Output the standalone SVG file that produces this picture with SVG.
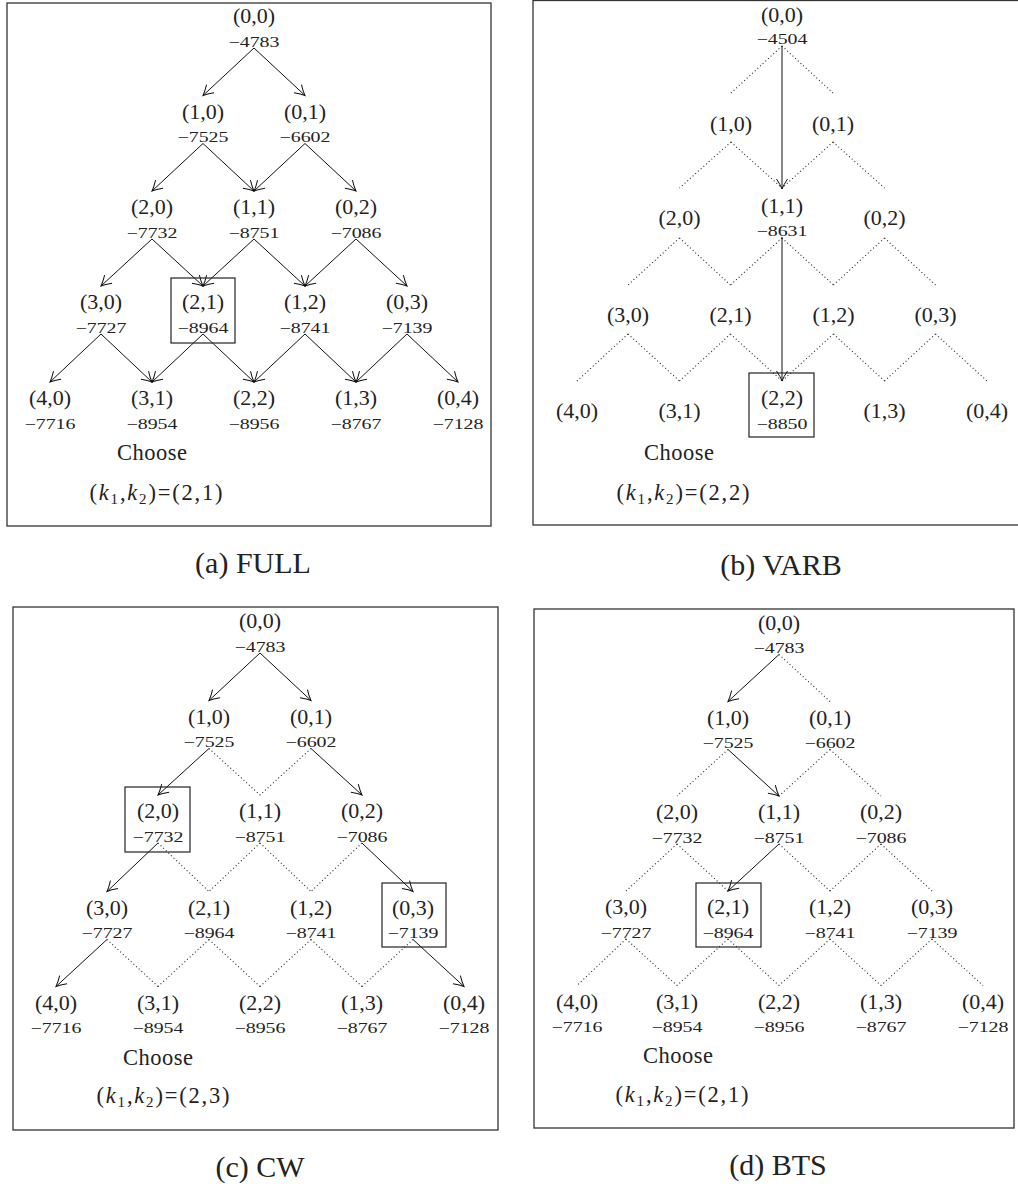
<svg xmlns="http://www.w3.org/2000/svg" width="1018" height="1190" viewBox="0 0 1018 1190">
<style>
text{font-family:"Liberation Serif","Times New Roman",serif;fill:#222;text-anchor:middle}
.lab{font-size:22px}
.val{font-size:14.5px}
.cap{font-size:30px}
.ch{font-size:22.5px}
.frame{fill:none;stroke:#333;stroke-width:1.3}
.box{fill:none;stroke:#222;stroke-width:1.2}
.s{stroke:#111;stroke-width:1;fill:none;marker-end:url(#ah)}
.d{stroke:#222;stroke-width:1.1;fill:none;stroke-dasharray:1 2.6}
</style>
<defs>
<marker id="ah" markerUnits="userSpaceOnUse" markerWidth="14" markerHeight="14" refX="0" refY="0" orient="auto" overflow="visible">
<path d="M -10 -5.5 Q -4 -1.5 0 0 Q -4 1.5 -10 5.5" fill="none" stroke="#111" stroke-width="1"/>
</marker>
</defs>
<rect width="1018" height="1190" fill="#fff"/>

<!-- frames -->
<g id="frames">
<rect class="frame" x="7" y="3" width="484" height="523"/>
<rect class="frame" x="533" y="0.5" width="495" height="524.5"/>
<rect class="frame" x="13" y="607" width="485" height="523"/>
<rect class="frame" x="534" y="609" width="480" height="519"/>
</g>

<!-- connectors -->
<g id="connectors">
<!-- panel a -->
<line class="s" x1="254" y1="48" x2="203" y2="95.5"/>
<line class="s" x1="254" y1="48" x2="305" y2="95.5"/>
<line class="s" x1="203" y1="143.5" x2="152" y2="191"/>
<line class="s" x1="203" y1="143.5" x2="254" y2="191"/>
<line class="s" x1="305" y1="143.5" x2="254" y2="191"/>
<line class="s" x1="305" y1="143.5" x2="356" y2="191"/>
<line class="s" x1="152" y1="239" x2="101" y2="286"/>
<line class="s" x1="152" y1="239" x2="203" y2="286"/>
<line class="s" x1="254" y1="239" x2="203" y2="286"/>
<line class="s" x1="254" y1="239" x2="305" y2="286"/>
<line class="s" x1="356" y1="239" x2="305" y2="286"/>
<line class="s" x1="356" y1="239" x2="407" y2="286"/>
<line class="s" x1="101" y1="334" x2="50" y2="382"/>
<line class="s" x1="101" y1="334" x2="152" y2="382"/>
<line class="s" x1="203" y1="334" x2="152" y2="382"/>
<line class="s" x1="203" y1="334" x2="254" y2="382"/>
<line class="s" x1="305" y1="334" x2="254" y2="382"/>
<line class="s" x1="305" y1="334" x2="356" y2="382"/>
<line class="s" x1="407" y1="334" x2="356" y2="382"/>
<line class="s" x1="407" y1="334" x2="458" y2="382"/>
<!-- panel b -->
<line class="d" x1="782" y1="46" x2="731" y2="93"/>
<line class="d" x1="782" y1="46" x2="833" y2="93"/>
<line class="d" x1="731" y1="142" x2="679.5" y2="188"/>
<line class="d" x1="731" y1="142" x2="782" y2="188"/>
<line class="d" x1="833" y1="142" x2="782" y2="188"/>
<line class="d" x1="833" y1="142" x2="884.5" y2="188"/>
<line class="d" x1="679.5" y1="238" x2="628" y2="285"/>
<line class="d" x1="679.5" y1="238" x2="730.5" y2="285"/>
<line class="d" x1="782" y1="238" x2="730.5" y2="285"/>
<line class="d" x1="782" y1="238" x2="833.5" y2="285"/>
<line class="d" x1="884.5" y1="238" x2="833.5" y2="285"/>
<line class="d" x1="884.5" y1="238" x2="935.5" y2="285"/>
<line class="d" x1="628" y1="334" x2="577" y2="381"/>
<line class="d" x1="628" y1="334" x2="679.5" y2="381"/>
<line class="d" x1="730.5" y1="334" x2="679.5" y2="381"/>
<line class="d" x1="730.5" y1="334" x2="782" y2="381"/>
<line class="d" x1="833.5" y1="334" x2="782" y2="381"/>
<line class="d" x1="833.5" y1="334" x2="884.5" y2="381"/>
<line class="d" x1="935.5" y1="334" x2="884.5" y2="381"/>
<line class="d" x1="935.5" y1="334" x2="987" y2="381"/>
<line class="s" x1="782" y1="46" x2="782" y2="189"/>
<line class="s" x1="782" y1="237" x2="782" y2="381"/>
<!-- panel c -->
<line class="s" x1="260" y1="653" x2="209" y2="700.5"/>
<line class="s" x1="260" y1="653" x2="311" y2="700.5"/>
<line class="s" x1="209" y1="748.5" x2="158" y2="795"/>
<line class="d" x1="209" y1="748.5" x2="260" y2="795"/>
<line class="d" x1="311" y1="748.5" x2="260" y2="795"/>
<line class="s" x1="311" y1="748.5" x2="362" y2="795"/>
<line class="s" x1="158" y1="843" x2="107" y2="891.5"/>
<line class="d" x1="158" y1="843" x2="209" y2="891.5"/>
<line class="d" x1="260" y1="843" x2="209" y2="891.5"/>
<line class="d" x1="260" y1="843" x2="311" y2="891.5"/>
<line class="d" x1="362" y1="843" x2="311" y2="891.5"/>
<line class="s" x1="362" y1="843" x2="413" y2="891.5"/>
<line class="s" x1="107" y1="939.5" x2="56" y2="986.5"/>
<line class="d" x1="107" y1="939.5" x2="158" y2="986.5"/>
<line class="d" x1="209" y1="939.5" x2="158" y2="986.5"/>
<line class="d" x1="209" y1="939.5" x2="260" y2="986.5"/>
<line class="d" x1="311" y1="939.5" x2="260" y2="986.5"/>
<line class="d" x1="311" y1="939.5" x2="362" y2="986.5"/>
<line class="d" x1="413" y1="939.5" x2="362" y2="986.5"/>
<line class="s" x1="413" y1="939.5" x2="464" y2="986.5"/>
<!-- panel d -->
<line class="s" x1="779" y1="654.5" x2="728" y2="701.5"/>
<line class="d" x1="779" y1="654.5" x2="830" y2="701.5"/>
<line class="d" x1="728" y1="749.5" x2="677" y2="796"/>
<line class="s" x1="728" y1="749.5" x2="779" y2="796"/>
<line class="d" x1="830" y1="749.5" x2="779" y2="796"/>
<line class="d" x1="830" y1="749.5" x2="881" y2="796"/>
<line class="d" x1="677" y1="844" x2="626" y2="891"/>
<line class="d" x1="677" y1="844" x2="728" y2="891"/>
<line class="s" x1="779" y1="844" x2="728" y2="891"/>
<line class="d" x1="779" y1="844" x2="830" y2="891"/>
<line class="d" x1="881" y1="844" x2="830" y2="891"/>
<line class="d" x1="881" y1="844" x2="932" y2="891"/>
<line class="d" x1="626" y1="939" x2="577" y2="985.5"/>
<line class="d" x1="626" y1="939" x2="677" y2="985.5"/>
<line class="d" x1="728" y1="939" x2="677" y2="985.5"/>
<line class="d" x1="728" y1="939" x2="779" y2="985.5"/>
<line class="d" x1="830" y1="939" x2="779" y2="985.5"/>
<line class="d" x1="830" y1="939" x2="881" y2="985.5"/>
<line class="d" x1="932" y1="939" x2="881" y2="985.5"/>
<line class="d" x1="932" y1="939" x2="983" y2="985.5"/>
</g>

<!-- Panel a nodes -->
<g id="a-0-0"><text class="lab" x="254" y="23">(0,0)</text><text class="val" x="254" y="47" textLength="51" lengthAdjust="spacingAndGlyphs">−4783</text></g>
<g id="a-1-0"><text class="lab" x="203" y="118.5">(1,0)</text><text class="val" x="203" y="142" textLength="51" lengthAdjust="spacingAndGlyphs">−7525</text></g>
<g id="a-0-1"><text class="lab" x="305" y="118.5">(0,1)</text><text class="val" x="305" y="142" textLength="51" lengthAdjust="spacingAndGlyphs">−6602</text></g>
<g id="a-2-0"><text class="lab" x="152" y="214">(2,0)</text><text class="val" x="152" y="237.5" textLength="51" lengthAdjust="spacingAndGlyphs">−7732</text></g>
<g id="a-1-1"><text class="lab" x="254" y="214">(1,1)</text><text class="val" x="254" y="237.5" textLength="51" lengthAdjust="spacingAndGlyphs">−8751</text></g>
<g id="a-0-2"><text class="lab" x="356" y="214">(0,2)</text><text class="val" x="356" y="237.5" textLength="51" lengthAdjust="spacingAndGlyphs">−7086</text></g>
<g id="a-3-0"><text class="lab" x="101" y="309">(3,0)</text><text class="val" x="101" y="332.5" textLength="51" lengthAdjust="spacingAndGlyphs">−7727</text></g>
<g id="a-2-1"><rect class="box" x="171" y="278" width="64" height="65"/><text class="lab" x="203" y="309">(2,1)</text><text class="val" x="203" y="332.5" textLength="51" lengthAdjust="spacingAndGlyphs">−8964</text></g>
<g id="a-1-2"><text class="lab" x="305" y="309">(1,2)</text><text class="val" x="305" y="332.5" textLength="51" lengthAdjust="spacingAndGlyphs">−8741</text></g>
<g id="a-0-3"><text class="lab" x="407" y="309">(0,3)</text><text class="val" x="407" y="332.5" textLength="51" lengthAdjust="spacingAndGlyphs">−7139</text></g>
<g id="a-4-0"><text class="lab" x="50" y="405">(4,0)</text><text class="val" x="50" y="428.5" textLength="51" lengthAdjust="spacingAndGlyphs">−7716</text></g>
<g id="a-3-1"><text class="lab" x="152" y="405">(3,1)</text><text class="val" x="152" y="428.5" textLength="51" lengthAdjust="spacingAndGlyphs">−8954</text></g>
<g id="a-2-2"><text class="lab" x="254" y="405">(2,2)</text><text class="val" x="254" y="428.5" textLength="51" lengthAdjust="spacingAndGlyphs">−8956</text></g>
<g id="a-1-3"><text class="lab" x="356" y="405">(1,3)</text><text class="val" x="356" y="428.5" textLength="51" lengthAdjust="spacingAndGlyphs">−8767</text></g>
<g id="a-0-4"><text class="lab" x="458" y="405">(0,4)</text><text class="val" x="458" y="428.5" textLength="51" lengthAdjust="spacingAndGlyphs">−7128</text></g>
<g id="a-choose"><text class="ch" x="152" y="460" textLength="70">Choose</text><text class="ch" x="156" y="500" textLength="133">(<tspan font-style="italic">k</tspan><tspan font-size="15" dy="4">1</tspan><tspan dy="-4">,</tspan><tspan font-style="italic">k</tspan><tspan font-size="15" dy="4">2</tspan><tspan dy="-4">)=(2,1)</tspan></text></g>
<g id="a-caption"><text class="cap" x="253" y="573">(a) FULL</text></g>

<!-- Panel b nodes -->
<g id="b-0-0"><text class="lab" x="782" y="22">(0,0)</text><text class="val" x="782" y="43.5" textLength="51" lengthAdjust="spacingAndGlyphs">−4504</text></g>
<g id="b-1-0"><text class="lab" x="731" y="131">(1,0)</text></g>
<g id="b-0-1"><text class="lab" x="833" y="131">(0,1)</text></g>
<g id="b-2-0"><text class="lab" x="679.5" y="225">(2,0)</text></g>
<g id="b-1-1"><text class="lab" x="782" y="213">(1,1)</text><text class="val" x="782" y="235.5" textLength="51" lengthAdjust="spacingAndGlyphs">−8631</text></g>
<g id="b-0-2"><text class="lab" x="884.5" y="225">(0,2)</text></g>
<g id="b-3-0"><text class="lab" x="628" y="322">(3,0)</text></g>
<g id="b-2-1"><text class="lab" x="730.5" y="322">(2,1)</text></g>
<g id="b-1-2"><text class="lab" x="833.5" y="322">(1,2)</text></g>
<g id="b-0-3"><text class="lab" x="935.5" y="322">(0,3)</text></g>
<g id="b-4-0"><text class="lab" x="577" y="418">(4,0)</text></g>
<g id="b-3-1"><text class="lab" x="679.5" y="418">(3,1)</text></g>
<g id="b-2-2"><rect class="box" x="749" y="373" width="65" height="64"/><text class="lab" x="782" y="405">(2,2)</text><text class="val" x="782" y="428.5" textLength="51" lengthAdjust="spacingAndGlyphs">−8850</text></g>
<g id="b-1-3"><text class="lab" x="884.5" y="418">(1,3)</text></g>
<g id="b-0-4"><text class="lab" x="987" y="418">(0,4)</text></g>
<g id="b-choose"><text class="ch" x="679" y="460" textLength="70">Choose</text><text class="ch" x="683" y="500" textLength="133">(<tspan font-style="italic">k</tspan><tspan font-size="15" dy="4">1</tspan><tspan dy="-4">,</tspan><tspan font-style="italic">k</tspan><tspan font-size="15" dy="4">2</tspan><tspan dy="-4">)=(2,2)</tspan></text></g>
<g id="b-caption"><text class="cap" x="781" y="575">(b) VARB</text></g>

<!-- Panel c nodes -->
<g id="c-0-0"><text class="lab" x="260" y="628">(0,0)</text><text class="val" x="260" y="651.5" textLength="51" lengthAdjust="spacingAndGlyphs">−4783</text></g>
<g id="c-1-0"><text class="lab" x="209" y="723.5">(1,0)</text><text class="val" x="209" y="747" textLength="51" lengthAdjust="spacingAndGlyphs">−7525</text></g>
<g id="c-0-1"><text class="lab" x="311" y="723.5">(0,1)</text><text class="val" x="311" y="747" textLength="51" lengthAdjust="spacingAndGlyphs">−6602</text></g>
<g id="c-2-0"><rect class="box" x="125" y="787" width="65" height="65"/><text class="lab" x="158" y="818">(2,0)</text><text class="val" x="158" y="841.5" textLength="51" lengthAdjust="spacingAndGlyphs">−7732</text></g>
<g id="c-1-1"><text class="lab" x="260" y="818">(1,1)</text><text class="val" x="260" y="841.5" textLength="51" lengthAdjust="spacingAndGlyphs">−8751</text></g>
<g id="c-0-2"><text class="lab" x="362" y="818">(0,2)</text><text class="val" x="362" y="841.5" textLength="51" lengthAdjust="spacingAndGlyphs">−7086</text></g>
<g id="c-3-0"><text class="lab" x="107" y="914.5">(3,0)</text><text class="val" x="107" y="938" textLength="51" lengthAdjust="spacingAndGlyphs">−7727</text></g>
<g id="c-2-1"><text class="lab" x="209" y="914.5">(2,1)</text><text class="val" x="209" y="938" textLength="51" lengthAdjust="spacingAndGlyphs">−8964</text></g>
<g id="c-1-2"><text class="lab" x="311" y="914.5">(1,2)</text><text class="val" x="311" y="938" textLength="51" lengthAdjust="spacingAndGlyphs">−8741</text></g>
<g id="c-0-3"><rect class="box" x="382" y="883" width="64" height="64"/><text class="lab" x="413" y="914.5">(0,3)</text><text class="val" x="413" y="938" textLength="51" lengthAdjust="spacingAndGlyphs">−7139</text></g>
<g id="c-4-0"><text class="lab" x="56" y="1009.5">(4,0)</text><text class="val" x="56" y="1033" textLength="51" lengthAdjust="spacingAndGlyphs">−7716</text></g>
<g id="c-3-1"><text class="lab" x="158" y="1009.5">(3,1)</text><text class="val" x="158" y="1033" textLength="51" lengthAdjust="spacingAndGlyphs">−8954</text></g>
<g id="c-2-2"><text class="lab" x="260" y="1009.5">(2,2)</text><text class="val" x="260" y="1033" textLength="51" lengthAdjust="spacingAndGlyphs">−8956</text></g>
<g id="c-1-3"><text class="lab" x="362" y="1009.5">(1,3)</text><text class="val" x="362" y="1033" textLength="51" lengthAdjust="spacingAndGlyphs">−8767</text></g>
<g id="c-0-4"><text class="lab" x="464" y="1009.5">(0,4)</text><text class="val" x="464" y="1033" textLength="51" lengthAdjust="spacingAndGlyphs">−7128</text></g>
<g id="c-choose"><text class="ch" x="158" y="1065" textLength="70">Choose</text><text class="ch" x="163" y="1103" textLength="133">(<tspan font-style="italic">k</tspan><tspan font-size="15" dy="4">1</tspan><tspan dy="-4">,</tspan><tspan font-style="italic">k</tspan><tspan font-size="15" dy="4">2</tspan><tspan dy="-4">)=(2,3)</tspan></text></g>
<g id="c-caption"><text class="cap" x="260" y="1177">(c) CW</text></g>

<!-- Panel d nodes -->
<g id="d-0-0"><text class="lab" x="779" y="629.5">(0,0)</text><text class="val" x="779" y="653" textLength="51" lengthAdjust="spacingAndGlyphs">−4783</text></g>
<g id="d-1-0"><text class="lab" x="728" y="724.5">(1,0)</text><text class="val" x="728" y="748" textLength="51" lengthAdjust="spacingAndGlyphs">−7525</text></g>
<g id="d-0-1"><text class="lab" x="830" y="724.5">(0,1)</text><text class="val" x="830" y="748" textLength="51" lengthAdjust="spacingAndGlyphs">−6602</text></g>
<g id="d-2-0"><text class="lab" x="677" y="819">(2,0)</text><text class="val" x="677" y="842.5" textLength="51" lengthAdjust="spacingAndGlyphs">−7732</text></g>
<g id="d-1-1"><text class="lab" x="779" y="819">(1,1)</text><text class="val" x="779" y="842.5" textLength="51" lengthAdjust="spacingAndGlyphs">−8751</text></g>
<g id="d-0-2"><text class="lab" x="881" y="819">(0,2)</text><text class="val" x="881" y="842.5" textLength="51" lengthAdjust="spacingAndGlyphs">−7086</text></g>
<g id="d-3-0"><text class="lab" x="626" y="914">(3,0)</text><text class="val" x="626" y="937.5" textLength="51" lengthAdjust="spacingAndGlyphs">−7727</text></g>
<g id="d-2-1"><rect class="box" x="696" y="883" width="65" height="64"/><text class="lab" x="728" y="914">(2,1)</text><text class="val" x="728" y="937.5" textLength="51" lengthAdjust="spacingAndGlyphs">−8964</text></g>
<g id="d-1-2"><text class="lab" x="830" y="914">(1,2)</text><text class="val" x="830" y="937.5" textLength="51" lengthAdjust="spacingAndGlyphs">−8741</text></g>
<g id="d-0-3"><text class="lab" x="932" y="914">(0,3)</text><text class="val" x="932" y="937.5" textLength="51" lengthAdjust="spacingAndGlyphs">−7139</text></g>
<g id="d-4-0"><text class="lab" x="577" y="1008.5">(4,0)</text><text class="val" x="577" y="1032" textLength="51" lengthAdjust="spacingAndGlyphs">−7716</text></g>
<g id="d-3-1"><text class="lab" x="677" y="1008.5">(3,1)</text><text class="val" x="677" y="1032" textLength="51" lengthAdjust="spacingAndGlyphs">−8954</text></g>
<g id="d-2-2"><text class="lab" x="779" y="1008.5">(2,2)</text><text class="val" x="779" y="1032" textLength="51" lengthAdjust="spacingAndGlyphs">−8956</text></g>
<g id="d-1-3"><text class="lab" x="881" y="1008.5">(1,3)</text><text class="val" x="881" y="1032" textLength="51" lengthAdjust="spacingAndGlyphs">−8767</text></g>
<g id="d-0-4"><text class="lab" x="983" y="1008.5">(0,4)</text><text class="val" x="983" y="1032" textLength="51" lengthAdjust="spacingAndGlyphs">−7128</text></g>
<g id="d-choose"><text class="ch" x="678" y="1063" textLength="70">Choose</text><text class="ch" x="682" y="1102" textLength="133">(<tspan font-style="italic">k</tspan><tspan font-size="15" dy="4">1</tspan><tspan dy="-4">,</tspan><tspan font-style="italic">k</tspan><tspan font-size="15" dy="4">2</tspan><tspan dy="-4">)=(2,1)</tspan></text></g>
<g id="d-caption"><text class="cap" x="778" y="1175">(d) BTS</text></g>
</svg>
